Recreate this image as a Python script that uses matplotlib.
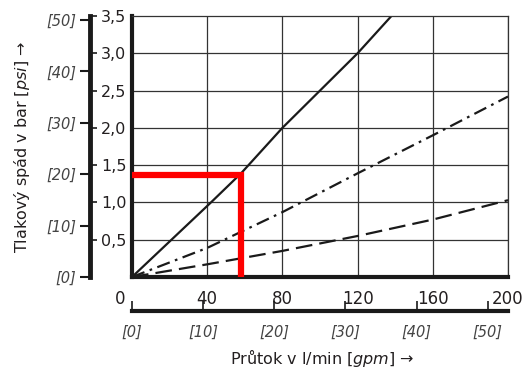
import matplotlib.pyplot as plt
import matplotlib.transforms as mtransforms
import numpy as np

# flow in l/min, pressure drop in bar
flow_solid = [0, 42, 58, 80, 100, 120, 138]
dp_solid = [0, 1.0, 1.39, 2.0, 2.5, 3.0, 3.5]

flow = [0, 40, 80, 120, 160, 200]
dp_dashdot = [0, 0.39, 0.87, 1.39, 1.90, 2.42]
dp_dashed = [0, 0.17, 0.35, 0.55, 0.77, 1.03]

# red reading example
red_flow = 58
red_dp = 1.37

x_ticks = [0, 40, 80, 120, 160, 200]
bar_ticks = [0.5, 1.0, 1.5, 2.0, 2.5, 3.0, 3.5]
bar_labels = ["0,5", "1,0", "1,5", "2,0", "2,5", "3,0", "3,5"]
psi_ticks = [0, 10, 20, 30, 40, 50]
gpm_ticks = [0, 10, 20, 30, 40, 50]

BAR_TO_PSI = 14.5038
GPM_TO_LMIN = 3.78541
txt = "#231f20"

fig = plt.figure(figsize=(5.31, 3.79), dpi=100)
W, H = 531, 379
L, R, T, B = 132, 508, 16, 277
ax = fig.add_axes([L / W, (H - B) / H, (R - L) / W, (B - T) / H])

ax.set_xlim(0, 200)
ax.set_ylim(0, 3.5)
ax.set_xticks(x_ticks)
ax.set_yticks([0.5, 1.0, 1.5, 2.0, 2.5, 3.0])
ax.grid(True, color="#333333", lw=0.9)
ax.tick_params(axis="both", length=0)
ax.tick_params(axis="x", pad=9, labelsize=12, labelcolor=txt)
ax.set_yticklabels([])
for s in ["top", "right"]:
    ax.spines[s].set_linewidth(0.9)
    ax.spines[s].set_color("#333333")
for s in ["left", "bottom"]:
    ax.spines[s].set_linewidth(3)
    ax.spines[s].set_color("#1a1a1a")

# shift the "0" label to the left of the spine
lbl0 = ax.get_xticklabels()[0]
lbl0.set_transform(lbl0.get_transform() + mtransforms.ScaledTranslation(-0.12, 0, fig.dpi_scale_trans))

ax.plot(flow_solid, dp_solid, color="#1a1a1a", lw=1.6, solid_capstyle="butt")
ax.plot(flow, dp_dashdot, color="#1a1a1a", lw=1.6, dashes=(6, 2.5, 1.2, 2.5))
ax.plot(flow, dp_dashed, color="#1a1a1a", lw=1.6, dashes=(7.5, 3.2))
ax.plot([0, red_flow, red_flow], [red_dp, red_dp, 0], color="#ff0000", lw=4.5,
        solid_joinstyle="miter", solid_capstyle="butt", clip_on=False, zorder=5)

# left scale: psi on the left side, bar on the right side
axp = fig.add_axes([90 / W, (H - B) / H, 1e-6, (B - T) / H])
axp.set_ylim(0, 3.5 * BAR_TO_PSI)
axp.set_xticks([])
for s in ["top", "right", "bottom"]:
    axp.spines[s].set_visible(False)
axp.spines["left"].set_linewidth(3.5)
axp.spines["left"].set_color("#1a1a1a")
axp.set_yticks(psi_ticks, [f"[{v}]" for v in psi_ticks])
axp.tick_params(axis="y", length=7, width=1.5, color="#1a1a1a", pad=3,
                labelsize=10.5, labelcolor="#444444")
for t in axp.get_yticklabels():
    t.set_fontstyle("italic")

axb = axp.twinx()
axb.set_ylim(0, 3.5)
for s in ["top", "left", "bottom", "right"]:
    axb.spines[s].set_visible(False)
axb.set_yticks(bar_ticks, bar_labels)
axb.tick_params(axis="y", length=5, width=1.2, color="#1a1a1a", pad=3,
                labelsize=11.5, labelcolor=txt)

# bottom scale: gpm
axg = fig.add_axes([L / W, (H - 311) / H, (R - L) / W, 1e-6])
axg.set_xlim(0, 200 / GPM_TO_LMIN)
axg.set_yticks([])
for s in ["top", "left", "right"]:
    axg.spines[s].set_visible(False)
axg.spines["bottom"].set_linewidth(3)
axg.spines["bottom"].set_color("#1a1a1a")
axg.set_xticks(gpm_ticks, [f"[{v}]" for v in gpm_ticks])
axg.tick_params(axis="x", direction="in", length=7, width=1.2, color="#1a1a1a",
                pad=10, labelsize=10.5, labelcolor="#444444")
for t in axg.get_xticklabels():
    t.set_fontstyle("italic")

fig.text(22 / W, (H - 147) / H, r"Tlakový spád v bar $\mathit{[psi]}$ →", rotation=90,
         ha="center", va="center", fontsize=11.5, color=txt)
fig.text(322 / W, (H - 358) / H, r"Průtok v l/min $\mathit{[gpm]}$ →",
         ha="center", va="center", fontsize=11.5, color=txt)

fig.savefig("out.png", dpi=100)
